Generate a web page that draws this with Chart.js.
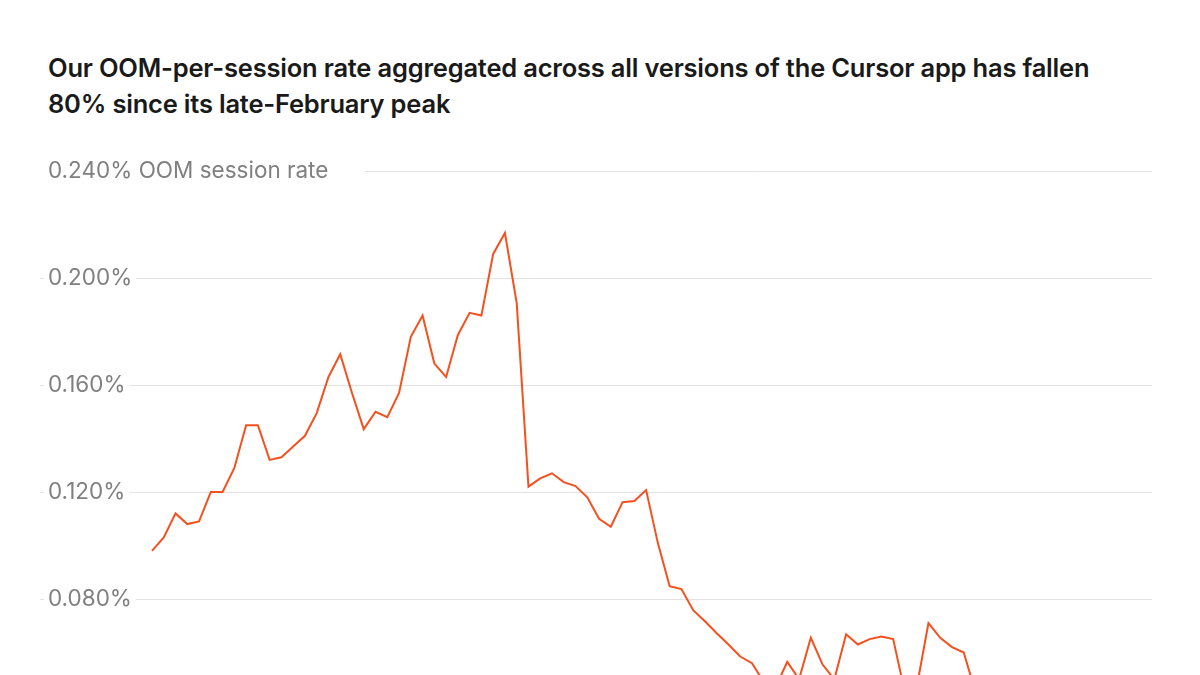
<!DOCTYPE html>
<html>
<head>
<meta charset="utf-8">
<script src="https://cdn.jsdelivr.net/npm/chart.js@4"></script>
<style>
  body { margin: 0; background: #fff; width: 1200px; height: 675px; overflow: hidden; position: relative; }
  h1 { position: absolute; left: 48px; top: 50px; margin: 0; width: 1060px; font: 600 25.5px/36px Inter, sans-serif; color: #1a1a1a; letter-spacing: -0.2px; }
  #wrap { position: absolute; left: 0; top: 140px; width: 1200px; height: 800px; }
</style>
</head>
<body>
<h1>Our OOM-per-session rate aggregated across all versions of the Cursor app has fallen 80% since its late-February peak</h1>
<div id="wrap"><canvas id="grafico"></canvas></div>
<script>
// valores (% de sessões com OOM)
var taxaOom = [
  0.098, 0.103, 0.112, 0.108, 0.109, 0.120, 0.120, 0.129, 0.145, 0.145,
  0.132, 0.133, 0.137, 0.141, 0.1495, 0.163, 0.1715, 0.157, 0.1435, 0.150,
  0.148, 0.157, 0.178, 0.186, 0.168, 0.163, 0.1787, 0.187, 0.186, 0.209,
  0.2168, 0.1906, 0.122, 0.1251, 0.127, 0.1237, 0.1222, 0.118, 0.110, 0.107,
  0.1162, 0.1166, 0.1207, 0.1009, 0.0848, 0.0837, 0.0758, 0.0717, 0.0672, 0.063,
  0.0585, 0.056, 0.049, 0.047, 0.0565, 0.050, 0.0655, 0.0555, 0.050, 0.0668,
  0.063, 0.065, 0.066, 0.065, 0.045, 0.047, 0.071, 0.0655, 0.062, 0.060,
  0.045, 0.043, 0.041, 0.042, 0.039, 0.040, 0.038, 0.037, 0.039, 0.036,
  0.035, 0.037, 0.034, 0.035, 0.033, 0.034
]
var dias = taxaOom.map(function (v, i) { return 'd' + (i + 1) })
var ticksY = [0, 0.04, 0.08, 0.12, 0.16, 0.2, 0.24]

const ctx1 = document.getElementById('grafico').getContext('2d')

// desenha linhas de grade e rótulos à esquerda
var eixoEsquerdo = {
    id: 'eixoEsquerdo',
    beforeDatasetsDraw(chart) {
        var c = chart.ctx
        var y = chart.scales.y
        var area = chart.chartArea
        c.save()
        c.font = '22.5px Inter, sans-serif'
        c.textBaseline = 'middle'
        ticksY.forEach(function (t) {
            var py = Math.round(y.getPixelForValue(t)) + 0.5
            var texto = t.toFixed(3) + '%'
            var inicio = 40
            if (t === 0.24) {
                texto += ' OOM session rate'
                inicio = 365
            }
            c.strokeStyle = '#e3e3e3'
            c.lineWidth = 1
            c.beginPath()
            c.moveTo(inicio, py)
            c.lineTo(area.right, py)
            c.stroke()
            var w = c.measureText(texto).width
            c.fillStyle = '#fff'
            c.fillRect(44, py - 15, w + 8, 30)
            c.fillStyle = '#808080'
            c.fillText(texto, 48, py)
        })
        c.restore()
    }
}

new Chart(ctx1, {
    type: 'line',
    data: {
        labels: dias,
        datasets: [{
            data: taxaOom,
            borderColor: '#f4511e',
            borderWidth: 2,
            pointRadius: 0,
            tension: 0
        }]
    },
    options: {
        responsive: true,
        maintainAspectRatio: false,
        animation: false,
        layout: { padding: { left: 152, right: 48, top: 31, bottom: 127 } },
        plugins: { legend: { display: false }, tooltip: { enabled: false } },
        scales: {
            x: { display: false, offset: false },
            y: { display: false, min: 0, max: 0.24 }
        }
    },
    plugins: [eixoEsquerdo]
})
</script>
</body>
</html>
